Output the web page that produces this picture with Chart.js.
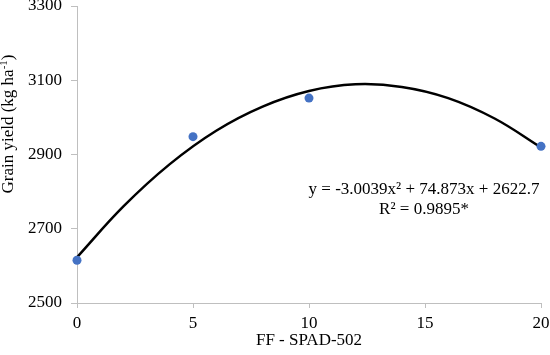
<!DOCTYPE html>
<html>
<head>
<meta charset="utf-8">
<script src="https://cdn.jsdelivr.net/npm/chart.js@4/dist/chart.umd.min.js"></script>
<style>
    html, body { margin: 0; padding: 0; background: #fff; }
    #wrap { width: 550px; height: 355px; position: relative; }
</style>
</head>
<body>
<div id="wrap"><canvas id="yield-chart"></canvas></div>
<script>
// observed grain yield per SPAD-502 treatment
const spadLevels = [0, 5, 10, 20];
const grainYield = [2615, 2948, 3052, 2922];

// quadratic trend line
const trendX = [0, 2, 4, 6, 8, 10, 12, 14, 16, 18, 20];
const trendY = [2623, 2760, 2874, 2964, 3029, 3071, 3089, 3082, 3052, 2997, 2919];

const xTicks = [0, 5, 10, 15, 20];
const yTicks = [2500, 2700, 2900, 3100, 3300];

const equationLines = ['y = -3.0039x² + 74.873x + 2622.7', 'R² = 0.9895*'];
const xTitle = 'FF - SPAD-502';

const FONT = '"Liberation Serif", "Times New Roman", serif';
const AXIS_GREY = '#bfbfbf';

// axis titles + regression label, drawn over the finished chart
const textPlugin = {
    id: 'textLayer',
    afterDraw(chart) {
        const ctx = chart.ctx;
        const area = chart.chartArea;
        ctx.save();
        ctx.fillStyle = '#000';
        ctx.textBaseline = 'middle';

        // x title
        ctx.font = `17px ${FONT}`;
        ctx.textAlign = 'center';
        ctx.fillText(xTitle, (area.left + area.right) / 2, 341);

        // regression equation
        ctx.fillText(equationLines[0], 424, 190);
        ctx.fillText(equationLines[1], 424, 210);

        // y title with superscript -1
        ctx.translate(9, 124);
        ctx.rotate(-Math.PI / 2);
        ctx.textAlign = 'left';
        const main = 'Grain yield (kg ha';
        const sup = '-1';
        const close = ')';
        ctx.font = `17px ${FONT}`;
        const wMain = ctx.measureText(main).width;
        const wClose = ctx.measureText(close).width;
        ctx.font = `11px ${FONT}`;
        const wSup = ctx.measureText(sup).width;
        let x = -(wMain + wSup + wClose) / 2;
        ctx.font = `17px ${FONT}`;
        ctx.fillText(main, x, 0);
        x += wMain;
        ctx.font = `11px ${FONT}`;
        ctx.fillText(sup, x, -5);
        x += wSup;
        ctx.font = `17px ${FONT}`;
        ctx.fillText(close, x, 0);
        ctx.restore();
    },
};

const ctx = document.getElementById('yield-chart').getContext('2d');
new Chart(ctx, {
    type: 'scatter',
    data: {
        datasets: [
            {
                label: 'Grain yield',
                data: spadLevels.map((x, i) => ({ x, y: grainYield[i] })),
                backgroundColor: '#4472c4',
                borderColor: '#4472c4',
                pointRadius: 4.5,
                pointBorderWidth: 0,
                showLine: false,
                clip: false,
            },
            {
                label: 'Trend',
                data: trendX.map((x, i) => ({ x, y: trendY[i] })),
                borderColor: '#000',
                borderWidth: 2.5,
                pointRadius: 0,
                showLine: true,
                tension: 0.4,
                fill: false,
                clip: false,
            },
        ],
    },
    options: {
        responsive: true,
        maintainAspectRatio: false,
        animation: false,
        layout: { padding: { top: 6, right: 9, left: 0, bottom: 0 } },
        plugins: {
            legend: { display: false },
            tooltip: { enabled: false },
        },
        scales: {
            x: {
                type: 'linear',
                min: 0,
                max: 20,
                afterBuildTicks: scale => { scale.ticks = xTicks.map(v => ({ value: v })); },
                afterFit: scale => {
                    scale.height = 52;
                    scale.paddingLeft = 0;
                    scale.paddingRight = 0;
                },
                grid: { drawOnChartArea: false, color: AXIS_GREY, tickLength: 5 },
                border: { color: AXIS_GREY },
                ticks: { color: '#000', padding: 5, maxRotation: 0, font: { family: FONT, size: 17 } },
            },
            y: {
                type: 'linear',
                min: 2500,
                max: 3300,
                afterBuildTicks: scale => { scale.ticks = yTicks.map(v => ({ value: v })); },
                afterFit: scale => {
                    scale.width = 77;
                    scale.paddingTop = 0;
                    scale.paddingBottom = 0;
                },
                grid: { drawOnChartArea: false, color: AXIS_GREY, tickLength: 6 },
                border: { color: AXIS_GREY },
                ticks: {
                    color: '#000',
                    padding: 9,
                    font: { family: FONT, size: 17 },
                    callback: v => String(v),
                },
            },
        },
    },
    plugins: [textPlugin],
});
</script>
</body>
</html>
